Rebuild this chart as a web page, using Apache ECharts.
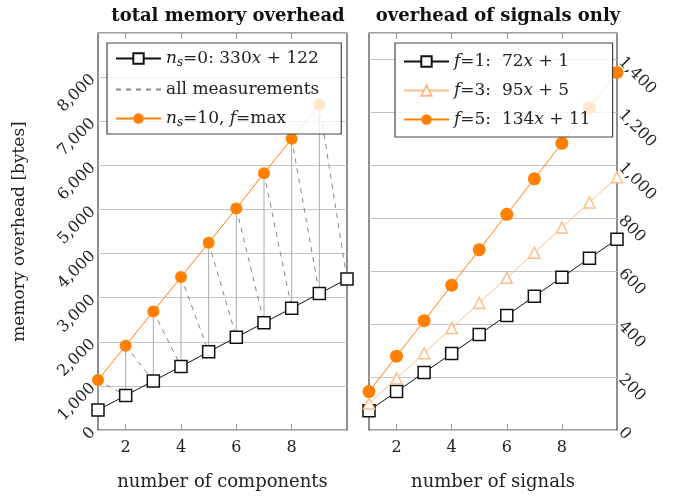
<!DOCTYPE html>
<html>
<head>
<meta charset="utf-8">
<script src="https://cdn.jsdelivr.net/npm/echarts@6/dist/echarts.min.js"></script>
<style>
html, body { margin: 0; padding: 0; background: #fff; }
#main { width: 678px; height: 496px; }
</style>
</head>
<body>
<div id="main"></div>
<script>
// data
var components = [1, 2, 3, 4, 5, 6, 7, 8, 9, 10];
var ns0Overhead = [452, 782, 1112, 1442, 1772, 2102, 2432, 2762, 3092, 3422]; // n_s=0
var ns10Overhead = [1133, 1911, 2689, 3467, 4244, 5022, 5822, 6600, 7378];   // n_s=10, f=max
var signals = [1, 2, 3, 4, 5, 6, 7, 8, 9, 10];
var f1Overhead = [73, 145, 217, 289, 361, 433, 505, 577, 649, 721];
var f3Overhead = [100, 195, 290, 385, 480, 575, 670, 765, 860, 955];
var f5Overhead = [145, 279, 413, 547, 681, 815, 949, 1083, 1217, 1351];
var xTickValues = [2, 4, 6, 8];

var font = 'DejaVu Serif';
var orange = '#ff8000';
var lightOrange = '#fbbe88';
var gridColor = '#c4c4c4';

function pairs(xs, ys) {
	var out = [];
	for (var i = 0; i < ys.length; i++) {
		out.push([xs[i], ys[i]]);
	}
	return out;
}

// all measurements: vertical runs (solid) and the drops to the next count (dashed)
var measVertical = [];
var measDrop = [];
for (var i = 0; i < ns10Overhead.length; i++) {
	measVertical.push([components[i], ns0Overhead[i]]);
	measVertical.push([components[i], ns10Overhead[i]]);
	measVertical.push([components[i], null]);
	measDrop.push([components[i], ns10Overhead[i]]);
	measDrop.push([components[i + 1], ns0Overhead[i + 1]]);
	measDrop.push([components[i + 1], null]);
}

function thousands(v) {
	return String(v).replace(/\B(?=(\d{3})+(?!\d))/g, ',');
}

var richText = {
	r: { fontFamily: font, fontSize: 17, color: '#222' },
	i: { fontFamily: font, fontSize: 17, fontStyle: 'italic', color: '#222' },
	s: { fontFamily: font, fontSize: 12, fontStyle: 'italic', color: '#222', padding: [9, 0, 0, 0] }
};

var legendNames = {
	'ns0': '{i|n}{s|s}{r|=0: 330}{i|x}{r| + 122}',
	'meas': '{r|all measurements}',
	'ns10': '{i|n}{s|s}{r|=10, }{i|f}{r|=max}',
	'f1': '{i|f}{r|=1:  72}{i|x}{r| + 1}',
	'f3': '{i|f}{r|=3:  95}{i|x}{r| + 5}',
	'f5': '{i|f}{r|=5:  134}{i|x}{r| + 11}'
};

function xAxisFor(gridIndex, name, top) {
	return {
		type: 'value',
		gridIndex: gridIndex,
		position: top ? 'top' : 'bottom',
		min: 1,
		max: 10,
		name: top ? '' : name,
		nameLocation: 'middle',
		nameGap: 43,
		nameTextStyle: { fontFamily: font, fontSize: 18, color: '#222' },
		axisLine: { show: false },
		axisTick: { show: true, inside: true, length: 6, lineStyle: { color: '#999' }, customValues: xTickValues },
		axisLabel: {
			show: !top,
			customValues: xTickValues,
			fontFamily: font, fontSize: 16, color: '#222', margin: 10
		},
		splitLine: { show: false }
	};
}

option = {
	animation: false,
	backgroundColor: '#fff',
	title: [{
		text: 'total memory overhead',
		left: 223, top: 2, textAlign: 'center',
		textStyle: { fontFamily: font, fontSize: 18, fontWeight: 'bold', color: '#111' }
	}, {
		text: 'overhead of signals only',
		left: 493, top: 2, textAlign: 'center',
		textStyle: { fontFamily: font, fontSize: 18, fontWeight: 'bold', color: '#111' }
	}],
	grid: [
		{ left: 98, top: 33, width: 249, height: 405, show: true, borderColor: '#444', borderWidth: 1.2, backgroundColor: 'transparent' },
		{ left: 369, top: 33, width: 248, height: 405, show: true, borderColor: '#444', borderWidth: 1.2, backgroundColor: 'transparent' }
	],
	legend: [{
		data: ['ns0', { name: 'meas', itemStyle: { opacity: 0 } }, 'ns10'],
		orient: 'vertical',
		left: 107, top: 43,
		padding: [7, 22, 5, 8],
		itemWidth: 45, itemHeight: 13, itemGap: 12,
		backgroundColor: 'rgba(255,255,255,0.8)',
		borderColor: '#444', borderWidth: 1.2,
		formatter: function(name) { return legendNames[name]; },
		textStyle: { rich: richText }
	}, {
		data: ['f1', 'f3', 'f5'],
		orient: 'vertical',
		left: 395, top: 43,
		padding: [10, 22, 9, 8],
		itemWidth: 45, itemHeight: 13, itemGap: 12,
		backgroundColor: 'rgba(255,255,255,0.8)',
		borderColor: '#444', borderWidth: 1.2,
		formatter: function(name) { return legendNames[name]; },
		textStyle: { rich: richText }
	}],
	xAxis: [
		xAxisFor(0, 'number of components', false),
		xAxisFor(1, 'number of signals', false),
		xAxisFor(0, '', true),
		xAxisFor(1, '', true)
	],
	yAxis: [{
		type: 'value',
		gridIndex: 0,
		min: 0, max: 9000, interval: 1000,
		name: 'memory overhead [bytes]',
		nameLocation: 'middle',
		nameGap: 70,
		nameTextStyle: { fontFamily: font, fontSize: 17, color: '#222' },
		axisLine: { show: false },
		axisTick: { show: false },
		axisLabel: {
			rotate: 45, margin: 5, showMaxLabel: false,
			fontFamily: font, fontSize: 16, color: '#222',
			formatter: thousands
		},
		splitLine: { show: true, lineStyle: { color: gridColor, width: 1 } }
	}, {
		type: 'value',
		gridIndex: 1,
		position: 'right',
		min: 0, max: 1500, interval: 200,
		axisLine: { show: false },
		axisTick: { show: false },
		axisLabel: {
			rotate: -45, margin: 4, showMaxLabel: false,
			fontFamily: font, fontSize: 16, color: '#222',
			formatter: thousands
		},
		splitLine: { show: true, lineStyle: { color: gridColor, width: 1 } }
	}],
	series: [{
		name: 'measVert',
		type: 'line',
		xAxisIndex: 0, yAxisIndex: 0,
		data: measVertical,
		showSymbol: false, symbol: 'none',
		connectNulls: false,
		lineStyle: { color: '#aaa', width: 1 },
		silent: true, z: 1
	}, {
		name: 'meas',
		type: 'line',
		xAxisIndex: 0, yAxisIndex: 0,
		data: measDrop,
		symbol: 'none',
		connectNulls: false,
		itemStyle: { color: '#888' },
		lineStyle: { color: '#888', width: 1, type: [5, 5] },
		z: 1
	}, {
		name: 'ns0',
		type: 'line',
		xAxisIndex: 0, yAxisIndex: 0,
		data: pairs(components, ns0Overhead),
		symbol: 'rect', symbolSize: 12,
		itemStyle: { color: '#fff', borderColor: '#111', borderWidth: 1.5 },
		lineStyle: { color: '#111', width: 1 },
		z: 3
	}, {
		name: 'ns10',
		type: 'line',
		xAxisIndex: 0, yAxisIndex: 0,
		data: pairs(components, ns10Overhead),
		symbol: 'circle', symbolSize: 12,
		itemStyle: { color: orange },
		lineStyle: { color: orange, width: 1 },
		z: 3
	}, {
		name: 'f1',
		type: 'line',
		xAxisIndex: 1, yAxisIndex: 1,
		data: pairs(signals, f1Overhead),
		symbol: 'rect', symbolSize: 12,
		itemStyle: { color: '#fff', borderColor: '#111', borderWidth: 1.5 },
		lineStyle: { color: '#111', width: 1 },
		z: 3
	}, {
		name: 'f3',
		type: 'line',
		xAxisIndex: 1, yAxisIndex: 1,
		data: pairs(signals, f3Overhead),
		symbol: 'triangle', symbolSize: 11,
		itemStyle: { color: '#fff', borderColor: lightOrange, borderWidth: 1.5 },
		lineStyle: { color: lightOrange, width: 1 },
		z: 3
	}, {
		name: 'f5',
		type: 'line',
		xAxisIndex: 1, yAxisIndex: 1,
		data: pairs(signals, f5Overhead),
		symbol: 'circle', symbolSize: 13,
		itemStyle: { color: orange },
		lineStyle: { color: orange, width: 1 },
		z: 3
	}]
};

var myChart = echarts.init(document.getElementById('main'));
if (option && typeof option === "object") {
	myChart.setOption(option, true);
}
</script>
</body>
</html>
